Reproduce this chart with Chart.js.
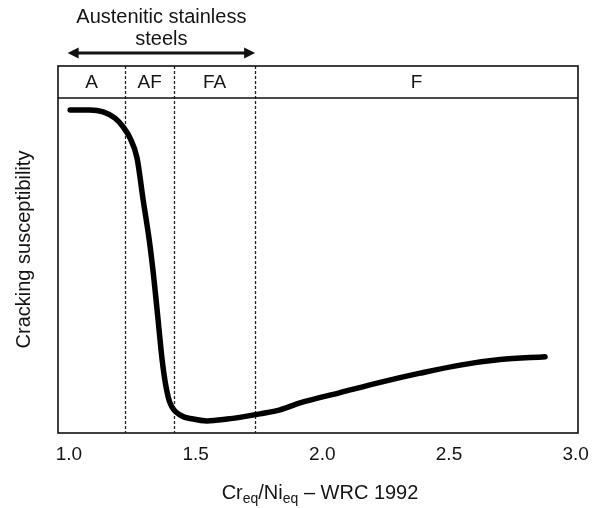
<!DOCTYPE html>
<html>
<head>
<meta charset="utf-8">
<script src="https://cdn.jsdelivr.net/npm/chart.js@4.4.1/dist/chart.umd.min.js"></script>
<style>
  html, body { margin: 0; padding: 0; background: #fff; }
  #wrap { width: 592px; height: 508px; }
</style>
</head>
<body>
<div id="wrap"><canvas id="c" width="592" height="508"></canvas></div>
<script>
// Cr_eq/Ni_eq ratio (WRC-1992) and relative solidification cracking susceptibility
const crNiRatio = [1.005, 1.083, 1.135, 1.182, 1.214, 1.241, 1.269, 1.293, 1.317, 1.336,
                   1.352, 1.368, 1.382, 1.399, 1.439, 1.490, 1.545, 1.624, 1.703, 1.754,
                   1.833, 1.912, 2.070, 2.228, 2.386, 2.544, 2.702, 2.879];
const susceptibility = [88.0, 88.0, 87.5, 85.8, 83.4, 80.4, 74.9, 63.5, 52.6, 41.7,
                        30.8, 19.9, 13.1, 8.2, 4.9, 3.8, 3.3, 3.8, 4.6, 5.2,
                        6.3, 8.2, 11.0, 13.8, 16.3, 18.5, 20.0, 20.8];

// Solidification mode boundaries and mode names
const modeBoundaries = [1.222, 1.415, 1.735];
const modeLabels = ['A', 'AF', 'FA', 'F'];

// Axis settings
const xTickValues = [1.0, 1.5, 2.0, 2.5, 3.0];
const xMin = 0.957, xMax = 3.009;
const yMin = 0, yMax = 100;
const bandBottom = 91.3;          // lower edge of the solidification-mode strip
const austeniticRange = [0.995, 1.735];

const FONT = "'Liberation Sans', Arial, Helvetica, sans-serif";
const INK = '#141414';
Chart.defaults.font.family = FONT;
Chart.defaults.color = INK;

const decorations = {
  id: 'decorations',
  beforeDatasetsDraw(chart) {
    const { ctx, chartArea: a, scales: { x } } = chart;
    ctx.save();
    // dashed mode boundaries
    ctx.strokeStyle = '#222';
    ctx.lineWidth = 1.3;
    ctx.setLineDash([3, 2]);
    modeBoundaries.forEach(v => {
      const px = Math.round(x.getPixelForValue(v)) + 0.5;
      ctx.beginPath();
      ctx.moveTo(px, a.top);
      ctx.lineTo(px, a.bottom);
      ctx.stroke();
    });
    ctx.restore();
  },
  afterDatasetsDraw(chart) {
    const { ctx, chartArea: a, scales: { x, y } } = chart;
    ctx.save();
    // frame
    ctx.strokeStyle = '#111';
    ctx.lineWidth = 1.6;
    ctx.strokeRect(a.left, a.top, a.right - a.left, a.bottom - a.top);
    // strip separator
    const by = y.getPixelForValue(bandBottom);
    ctx.beginPath();
    ctx.moveTo(a.left, by);
    ctx.lineTo(a.right, by);
    ctx.stroke();

    // mode names centred in each zone
    const edges = [xMin, ...modeBoundaries, xMax];
    ctx.fillStyle = INK;
    ctx.font = `19px ${FONT}`;
    ctx.textAlign = 'center';
    ctx.textBaseline = 'middle';
    const ly = (a.top + by) / 2 + 1;
    modeLabels.forEach((t, i) => {
      const cx = (x.getPixelForValue(edges[i]) + x.getPixelForValue(edges[i + 1])) / 2;
      ctx.fillText(t, cx, ly);
    });

    // double-headed arrow for austenitic stainless steels
    const ax1 = x.getPixelForValue(austeniticRange[0]);
    const ax2 = x.getPixelForValue(austeniticRange[1]);
    const ay = 53;
    ctx.strokeStyle = '#111';
    ctx.lineWidth = 3;
    ctx.beginPath();
    ctx.moveTo(ax1 + 6, ay);
    ctx.lineTo(ax2 - 6, ay);
    ctx.stroke();
    ctx.fillStyle = '#111';
    ctx.beginPath();
    ctx.moveTo(ax1, ay); ctx.lineTo(ax1 + 11, ay - 5.5); ctx.lineTo(ax1 + 11, ay + 5.5); ctx.closePath();
    ctx.fill();
    ctx.beginPath();
    ctx.moveTo(ax2, ay); ctx.lineTo(ax2 - 11, ay - 5.5); ctx.lineTo(ax2 - 11, ay + 5.5); ctx.closePath();
    ctx.fill();

    ctx.fillStyle = INK;
    ctx.font = `20px ${FONT}`;
    ctx.textBaseline = 'alphabetic';
    const acx = (ax1 + ax2) / 2;
    ctx.fillText('Austenitic stainless', acx, 23);
    ctx.fillText('steels', acx, 45);

    // x-axis title with subscripts
    const parts = [
      { t: 'Cr', sub: false }, { t: 'eq', sub: true },
      { t: '/Ni', sub: false }, { t: 'eq', sub: true },
      { t: ' \u2013 WRC 1992', sub: false }
    ];
    const mainFont = `20px ${FONT}`, subFont = `14px ${FONT}`;
    let total = 0;
    parts.forEach(p => { ctx.font = p.sub ? subFont : mainFont; p.w = ctx.measureText(p.t).width; total += p.w; });
    let tx = 320 - total / 2;
    const base = 499;
    ctx.textAlign = 'left';
    parts.forEach(p => {
      ctx.font = p.sub ? subFont : mainFont;
      ctx.fillText(p.t, tx, p.sub ? base + 4 : base);
      tx += p.w;
    });
    ctx.restore();
  }
};

new Chart(document.getElementById('c'), {
  type: 'line',
  data: {
    datasets: [{
      data: crNiRatio.map((v, i) => ({ x: v, y: susceptibility[i] })),
      borderColor: '#000',
      borderWidth: 5.5,
      borderCapStyle: 'round',
      borderJoinStyle: 'round',
      cubicInterpolationMode: 'monotone',
      pointRadius: 0,
      fill: false
    }]
  },
  options: {
    responsive: false,
    devicePixelRatio: 1,
    animation: false,
    layout: { padding: { left: 0, right: 14, top: 66, bottom: 0 } },
    plugins: { legend: { display: false }, tooltip: { enabled: false } },
    scales: {
      x: {
        type: 'linear',
        min: xMin,
        max: xMax,
        grid: { display: false, drawTicks: false },
        border: { display: false },
        afterBuildTicks(scale) { scale.ticks = xTickValues.map(v => ({ value: v })); },
        afterFit(scale) {
          scale.height = 75;
          scale.paddingLeft = 0;
          scale.paddingRight = 0;
        },
        ticks: {
          padding: 10,
          color: INK,
          font: { size: 19 },
          callback: v => Number(v).toFixed(1)
        }
      },
      y: {
        min: yMin,
        max: yMax,
        grid: { display: false, drawTicks: false },
        border: { display: false },
        ticks: { display: false },
        afterFit(scale) { scale.width = 58; },
        title: {
          display: true,
          text: 'Cracking susceptibility',
          color: INK,
          font: { size: 20 },
          padding: { top: 12, bottom: 0 }
        }
      }
    }
  },
  plugins: [decorations]
});
</script>
</body>
</html>
